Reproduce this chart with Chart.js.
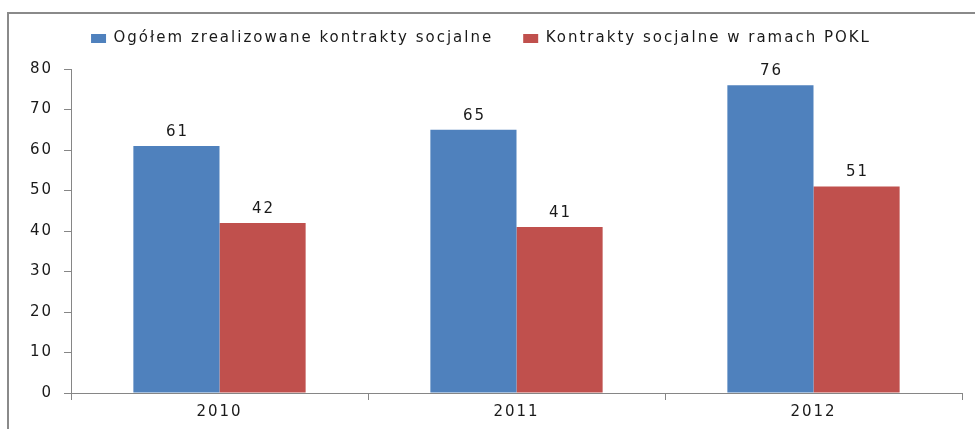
<!DOCTYPE html>
<html>
<head>
<meta charset="utf-8">
<script src="https://cdn.jsdelivr.net/npm/chart.js@4/dist/chart.umd.min.js"></script>
<style>
  html, body { margin: 0; padding: 0; background: #fff; }
  #wrap { width: 975px; height: 429px; }
</style>
</head>
<body>
<div id="wrap"><canvas id="chart"></canvas></div>
<script>
const years = ['2010', '2011', '2012']
const allContracts = [61, 65, 76]
const poklContracts = [42, 41, 51]
const seriesNames = ['Ogółem zrealizowane kontrakty socjalne', 'Kontrakty socjalne w ramach POKL']

const axisColor = '#868686'
const textColor = '#1a1a1a'
const spacing = '2px'

// the reference text is wide and spread out, and the legend band is fixed height
const spacingPlugin = {
  id: 'spacing',
  beforeInit(chart) {
    const fit = chart.legend.fit
    chart.legend.fit = function () {
      fit.call(this)
      this.height = 68
    }
  },
  beforeUpdate(chart) { chart.ctx.letterSpacing = spacing },
  beforeLayout(chart) { chart.ctx.letterSpacing = spacing },
  beforeDraw(chart) {
    const ctx = chart.ctx
    ctx.letterSpacing = spacing
    ctx.save()
    ctx.strokeStyle = '#8a8a8a'
    ctx.lineWidth = 2
    ctx.strokeRect(8, 13, 1100, 600)
    ctx.restore()
  },
}

const valueLabels = {
  id: 'valueLabels',
  afterDatasetsDraw(chart) {
    const ctx = chart.ctx
    ctx.save()
    ctx.font = '15px "DejaVu Sans"'
    ctx.fillStyle = textColor
    ctx.textAlign = 'center'
    ctx.textBaseline = 'alphabetic'
    chart.data.datasets.forEach((ds, i) => {
      chart.getDatasetMeta(i).data.forEach((bar, j) => {
        ctx.fillText(String(ds.data[j]), bar.x + 1, bar.y - 10)
      })
    })
    ctx.restore()
  },
}

new Chart(document.getElementById('chart'), {
  type: 'bar',
  data: {
    labels: years,
    datasets: [
      {
        label: seriesNames[0],
        data: allContracts,
        backgroundColor: '#4F81BD',
        categoryPercentage: 0.58,
        barPercentage: 1,
      },
      {
        label: seriesNames[1],
        data: poklContracts,
        backgroundColor: '#C0504D',
        categoryPercentage: 0.58,
        barPercentage: 1,
      },
    ],
  },
  options: {
    responsive: true,
    maintainAspectRatio: false,
    animation: false,
    layout: {
      padding: { top: 1, right: 13, bottom: 0, left: 0 },
    },
    plugins: {
      legend: {
        position: 'top',
        labels: {
          boxWidth: 15,
          boxHeight: 9,
          padding: 30,
          color: textColor,
          font: { family: 'DejaVu Sans', size: 15 },
        },
      },
      tooltip: { enabled: false },
    },
    scales: {
      x: {
        afterFit(scale) { scale.height = 36 },
        grid: {
          offset: true,
          drawOnChartArea: false,
          tickLength: 7,
          color: axisColor,
        },
        border: { color: axisColor },
        ticks: {
          color: textColor,
          padding: 3,
          font: { family: 'DejaVu Sans', size: 15 },
        },
      },
      y: {
        min: 0,
        max: 80,
        afterFit(scale) { scale.width = 71 },
        grid: {
          drawOnChartArea: false,
          tickLength: 7,
          color: axisColor,
        },
        border: { color: axisColor },
        ticks: {
          stepSize: 10,
          color: textColor,
          padding: 11,
          font: { family: 'DejaVu Sans', size: 15 },
        },
      },
    },
  },
  plugins: [spacingPlugin, valueLabels],
})
</script>
</body>
</html>
